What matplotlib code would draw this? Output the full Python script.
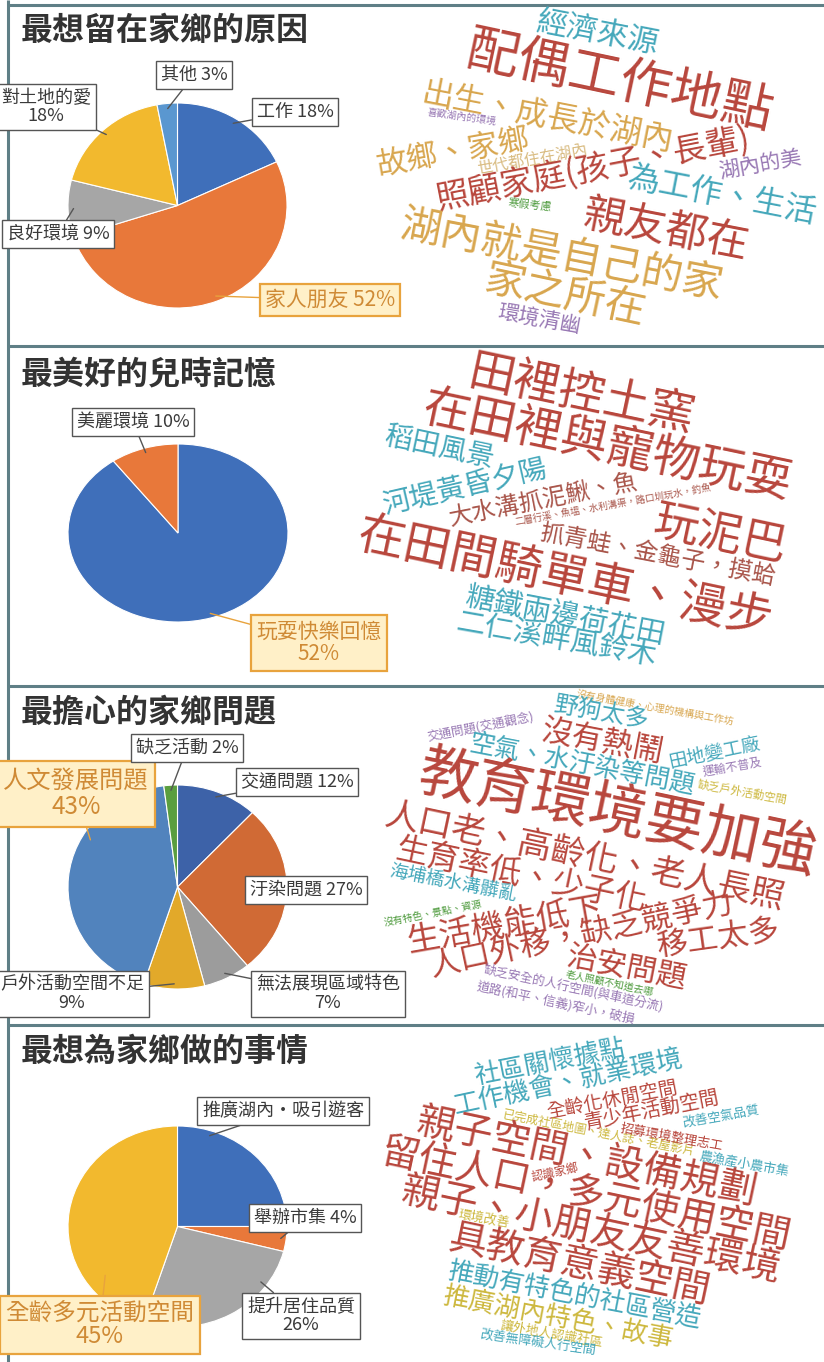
import numpy as np
import matplotlib.pyplot as plt

plt.rcParams['font.family'] = ['Noto Sans CJK TC', 'DejaVu Sans']

W, H = 824, 1362

# ---------------- data ----------------
titles = ['最想留在家鄉的原因', '最美好的兒時記憶', '最擔心的家鄉問題', '最想為家鄉做的事情']

p1_labels = ['工作 18%', '家人朋友 52%', '良好環境 9%', '對土地的愛\n18%', '其他 3%']
p1_values = [18, 52, 9, 18, 3]
p1_colors = ['#3f6fba', '#e8783a', '#a6a6a6', '#f2b92e', '#5a97d0']

p2_labels = ['玩耍快樂回憶\n52%', '美麗環境 10%']
p2_values = [90, 10]
p2_colors = ['#3f6fba', '#e8783a']

p3_labels = ['交通問題 12%', '汙染問題 27%', '無法展現區域特色\n7%', '戶外活動空間不足\n9%',
             '人文發展問題\n43%', '缺乏活動 2%']
p3_values = [12, 27, 7, 9, 43, 2]
p3_colors = ['#3d62a8', '#d06a35', '#9c9c9c', '#e2a92a', '#5183bd', '#5a9e3f']

p4_labels = ['推廣湖內・吸引遊客', '舉辦市集 4%', '提升居住品質\n26%', '全齡多元活動空間\n45%']
p4_values = [25, 4, 26, 45]
p4_colors = ['#3f6fba', '#e8783a', '#a6a6a6', '#f2b92e']

cloud1_words = ['經濟來源', '配偶工作地點', '出生、成長於湖內', '喜歡湖內的環境', '故鄉、家鄉',
                '世代都住在湖內', '照顧家庭(孩子、長輩)', '湖內的美', '為工作、生活', '寒假考慮',
                '親友都在', '湖內就是自己的家', '家之所在', '環境清幽']
cloud2_words = ['田裡控土窯', '在田裡與寵物玩耍', '稻田風景', '河堤黃昏夕陽', '大水溝抓泥鰍、魚',
                '二層行溪、魚塭、水利溝渠，路口圳玩水，釣魚', '抓青蛙、金龜子，摸蛤', '玩泥巴',
                '在田間騎單車、漫步', '糖鐵兩邊荷花田', '二仁溪畔風鈴木']
cloud3_words = ['沒有身體健康、心理的機構與工作坊', '野狗太多', '交通問題(交通觀念)', '沒有熱鬧',
                '空氣、水汙染等問題', '田地變工廠', '運輸不普及', '缺乏戶外活動空間', '教育環境要加強',
                '人口老、高齡化、老人長照', '生育率低、少子化', '海埔橋水溝髒亂', '沒有特色、景點、資源',
                '生活機能低下', '人口外移，缺乏競爭力', '移工太多', '治安問題', '老人照顧不知道去哪',
                '缺乏安全的人行空間(與車道分流)', '道路(和平、信義)窄小，破損']
cloud4_words = ['社區關懷據點', '工作機會、就業環境', '全齡化休閒空間', '青少年活動空間', '改善空氣品質',
                '已完成社區地圖、達人誌、老屋影片', '招募環境整理志工', '親子空間、設備規劃',
                '農漁產小農市集', '留住人口，多元使用空間', '認識家鄉', '親子、小朋友友善環境', '環境改善',
                '具教育意義空間', '推動有特色的社區營造', '推廣湖內特色、故事', '讓外地人認識社區',
                '改善無障礙人行空間']

# ---------------- layout ----------------
# pie boxes in pixels: left, top, right, bottom
pie_boxes = [(68, 103, 287, 308), (68, 444, 288, 622), (68, 785, 287, 989), (68, 1126, 287, 1327)]
title_y = [31, 374, 713, 1052]

p1_pos = [(295, 112), (330, 300), (58, 234), (46, 107), (194, 75)]
p2_pos = [(319, 643), (133, 422)]
p3_pos = [(297, 782), (306, 890), (328, 994), (72, 994), (76, 794), (187, 748)]
p4_pos = [(283, 1111), (305, 1218), (301, 1316), (100, 1325)]

highlight = [1, 0, 4, 3]
highlight_size = [15, 15, 17.5, 17]
anchor_fix = [{}, {}, {4: (0.66, 0.92)}, {0: (0.2, 0.95), 2: (0.23, 0.94), 3: (0.22, 0.82)}]

pal = {'red': '#b8463c', 'gold': '#d8a64e', 'teal': '#45a8bb', 'purple': '#9878b4',
       'green': '#4d9a3c', 'yellow': '#cdb83e', 'lgold': '#d9bc82', 'dred': '#a9554a'}

# x, y, em(px), angle, colour
cloud1_layout = [(598, 33, 31, -11, 'teal'), (620, 82, 52, -12, 'red'), (548, 117, 32, -11, 'gold'),
                 (462, 117, 10, -8, 'purple'), (453, 153, 31, 10, 'gold'), (532, 160, 16, 10, 'lgold'),
                 (593, 170, 33, 11, 'red'), (760, 165, 21, 10, 'purple'), (722, 196, 32, -11, 'teal'),
                 (530, 205, 11, -6, 'green'), (666, 230, 42, -11, 'red'), (561, 257, 41, -11, 'gold'),
                 (565, 297, 41, -12, 'gold'), (539, 320, 21, -10, 'purple')]
cloud2_layout = [(582, 395, 46, -12, 'red'), (607, 447, 47, -12, 'red'), (440, 448, 28, -12, 'teal'),
                 (465, 487, 28, 13, 'teal'), (544, 500, 24, 11, 'dred'), (613, 505, 9.5, 10, 'dred'),
                 (658, 555, 24, -11, 'dred'), (720, 535, 45, -12, 'red'), (565, 578, 47, -12, 'red'),
                 (565, 617, 29, -11, 'teal'), (556, 641, 29, -10, 'teal')]
cloud3_layout = [(655, 708, 10, -10, 'gold'), (601, 713, 24, -10, 'teal'), (480, 727, 12.5, 11, 'purple'),
                 (603, 742, 31, -11, 'red'), (582, 766, 25.5, -11, 'teal'), (714, 753, 18.6, 12, 'teal'),
                 (732, 767, 12, 10, 'purple'), (742, 792, 11.4, -10, 'yellow'), (617, 815, 58, -12, 'red'),
                 (585, 857, 34, -12, 'red'), (521, 876, 32, -12, 'red'), (453, 883, 18.5, -11, 'teal'),
                 (433, 913, 10, 11, 'green'), (505, 925, 33, 10, 'red'), (582, 936, 31, 12, 'red'),
                 (718, 939, 31, 8, 'red'), (627, 969, 30.5, -11, 'red'), (610, 983, 10, -12, 'green'),
                 (574, 988, 12.5, -12, 'purple'), (556, 1003, 12.8, -12, 'purple')]
cloud4_layout = [(550, 1062, 25.5, 11, 'teal'), (568, 1082, 26, 12, 'teal'), (612, 1100, 19, 11, 'red'),
                 (652, 1110, 19.7, 11, 'red'), (721, 1116, 13, 10, 'teal'), (599, 1133, 12.3, -11, 'yellow'),
                 (672, 1137, 13, -10, 'red'), (586, 1158, 38.6, -12, 'red'), (744, 1164, 13, -10, 'teal'),
                 (585, 1195, 38, -12, 'red'), (555, 1172, 12, 12, 'red'), (591, 1230, 38.7, -12, 'red'),
                 (484, 1219, 13, -10, 'yellow'), (579, 1265, 38, -12, 'red'), (574, 1295, 25.8, -11, 'teal'),
                 (558, 1318, 26, -11, 'yellow'), (552, 1334, 13, -10, 'yellow'), (538, 1342, 13, -8, 'teal')]

pies = [(p1_labels, p1_values, p1_colors, p1_pos), (p2_labels, p2_values, p2_colors, p2_pos),
        (p3_labels, p3_values, p3_colors, p3_pos), (p4_labels, p4_values, p4_colors, p4_pos)]
clouds = [(cloud1_words, cloud1_layout), (cloud2_words, cloud2_layout),
          (cloud3_words, cloud3_layout), (cloud4_words, cloud4_layout)]


def slice_point(values, i, t=0.5, r=0.95):
    tot = float(sum(values))
    frac = (sum(values[:i]) + t * values[i]) / tot
    ang = np.deg2rad(90 - 360 * frac)
    return r * np.cos(ang), r * np.sin(ang)


fig = plt.figure(figsize=(W / 100, H / 100), dpi=100)
fig.patch.set_facecolor('white')
bg = fig.add_axes([0, 0, 1, 1])
bg.set_xlim(0, W)
bg.set_ylim(H, 0)
bg.axis('off')

# frame
frame_col = '#5f7f86'
bg.plot([8.5, 8.5], [0, H], color=frame_col, lw=2.2, solid_capstyle='butt')
for yy in [5, 346, 686, 1025]:
    bg.plot([8.5, W], [yy, yy], color=frame_col, lw=2.2, solid_capstyle='butt')

for k in range(4):
    bg.text(21, title_y[k], titles[k], fontsize=23, fontweight='bold', color='#333333',
            ha='left', va='center')

    words, layout = clouds[k]
    for word, (x, y, em, ang, col) in zip(words, layout):
        bg.text(x, y, word, fontsize=em * 0.72, rotation=ang, rotation_mode='anchor',
                ha='center', va='center', color=pal[col], fontweight='light')

    labels, values, colors, pos = pies[k]
    x0, y0, x1, y1 = pie_boxes[k]
    ax = fig.add_axes([x0 / W, 1 - y1 / H, (x1 - x0) / W, (y1 - y0) / H])
    ax.pie(values, colors=colors, startangle=90, counterclock=False,
           wedgeprops=dict(edgecolor='white', linewidth=0.8))
    ax.set_aspect('auto')
    ax.set_xlim(-1, 1)
    ax.set_ylim(-1, 1)
    ax.axis('off')

    for i, lab in enumerate(labels):
        t, r = anchor_fix[k].get(i, (0.5, 0.95))
        if i == highlight[k]:
            fs, tc, fc, ec, lc = highlight_size[k], '#cf8a35', '#fff0c8', '#e8a33d', '#e8a33d'
            lw = 1.6
        else:
            fs, tc, fc, ec, lc = 13, '#3a3a3a', 'white', '#555555', '#555555'
            lw = 1.0
        ax.annotate(lab, xy=slice_point(values, i, t, r), xycoords='data',
                    xytext=pos[i], textcoords=bg.transData,
                    ha='center', va='center', fontsize=fs, color=tc, linespacing=1.05,
                    bbox=dict(boxstyle='square,pad=0.25', fc=fc, ec=ec, lw=lw),
                    arrowprops=dict(arrowstyle='-', color=lc, lw=1.0, shrinkA=0, shrinkB=0),
                    annotation_clip=False)

fig.savefig('out.png', dpi=100, facecolor='white')
